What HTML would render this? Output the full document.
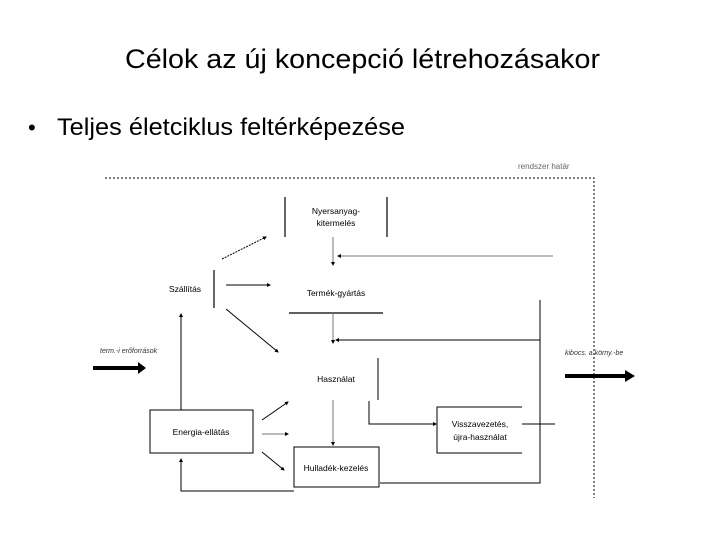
<!DOCTYPE html>
<html><head><meta charset="utf-8"><style>
html,body{margin:0;padding:0;background:#fff;width:720px;height:540px;overflow:hidden}
svg{display:block}
</style></head><body>
<svg width="720" height="540" viewBox="0 0 720 540" xmlns="http://www.w3.org/2000/svg" font-family="Liberation Sans, sans-serif">
<defs>
<marker id="a" markerWidth="6" markerHeight="6" refX="5" refY="3" orient="auto"><path d="M0,0 L6,3 L0,6 z" fill="#000"/></marker>
<marker id="b" markerWidth="4" markerHeight="4" refX="3" refY="2" orient="auto"><path d="M0,0 L4,2 L0,4 z" fill="#000"/></marker>
</defs>
<text x="125" y="68" font-size="27" textLength="475" lengthAdjust="spacingAndGlyphs" fill="#000">Célok az új koncepció létrehozásakor</text>
<text x="28" y="135" font-size="22" fill="#000">•</text>
<text x="57" y="135" font-size="24" textLength="348" lengthAdjust="spacingAndGlyphs" fill="#000">Teljes életciklus feltérképezése</text>
<text x="518" y="169" font-size="8" fill="#666">rendszer határ</text>
<g stroke="#000" fill="none">
<path d="M105,178 H594 V498" stroke-dasharray="2,2" stroke-width="1"/>
<path d="M285,197 V237 M387,197 V237" stroke-width="1.2"/>
<path d="M333,237 V265" stroke="#777" marker-end="url(#b)"/>
<path d="M553,256 H338" stroke="#777" marker-end="url(#b)"/>
<path d="M214,270 V308" stroke-width="1.2"/>
<path d="M226,285 H270" marker-end="url(#b)"/>
<path d="M222,259 L266,237" stroke-dasharray="2,1" marker-end="url(#b)"/>
<path d="M226,309 L278,352" marker-end="url(#b)"/>
<path d="M289,313 H383" stroke-width="1.2"/>
<path d="M333,313 V343" stroke="#777" marker-end="url(#b)"/>
<path d="M540,300 V483 H380" stroke-width="1"/>
<path d="M540,340 H336" marker-end="url(#b)"/>
<path d="M378,358 V400"/>
<path d="M369,401 V424 H436" marker-end="url(#b)"/>
<path d="M522,407 H437 V453 H522"/>
<path d="M522,424 H555"/>
<path d="M333,400 V445" stroke="#777" marker-end="url(#b)"/>
<path d="M294,447 H379 V487 H294 Z"/>
<rect x="150" y="410" width="103" height="43"/>
<path d="M262,420 L288,402" marker-end="url(#b)"/>
<path d="M262,434 L288,434" stroke="#777" marker-end="url(#b)"/>
<path d="M262,452 L284,470" marker-end="url(#b)"/>
<path d="M181,410 V314" marker-end="url(#b)"/>
<path d="M294,491 H181 V459" marker-end="url(#b)"/>
<path d="M93,368 H140" stroke-width="4"/>
<path d="M565,376 H627" stroke-width="4"/>
</g>
<path d="M138,362 L146,368 L138,374 z" fill="#000"/>
<path d="M625,370 L635,376 L625,382 z" fill="#000"/>
<g font-size="8.5" fill="#000" text-anchor="middle">
<text x="336" y="214">Nyersanyag-</text>
<text x="336" y="226">kitermelés</text>
<text x="185" y="292">Szállítás</text>
<text x="336" y="296">Termék-gyártás</text>
<text x="336" y="382">Használat</text>
<text x="480" y="427">Visszavezetés,</text>
<text x="480" y="440">újra-használat</text>
<text x="336" y="471">Hulladék-kezelés</text>
<text x="201" y="435">Energia-ellátás</text>
</g>
<text x="100" y="353" font-size="7" font-style="italic" fill="#333">term.-i erőforrások</text>
<text x="565" y="355" font-size="7" font-style="italic" fill="#333">kibocs. a körny.-be</text>
</svg>
</body></html>
